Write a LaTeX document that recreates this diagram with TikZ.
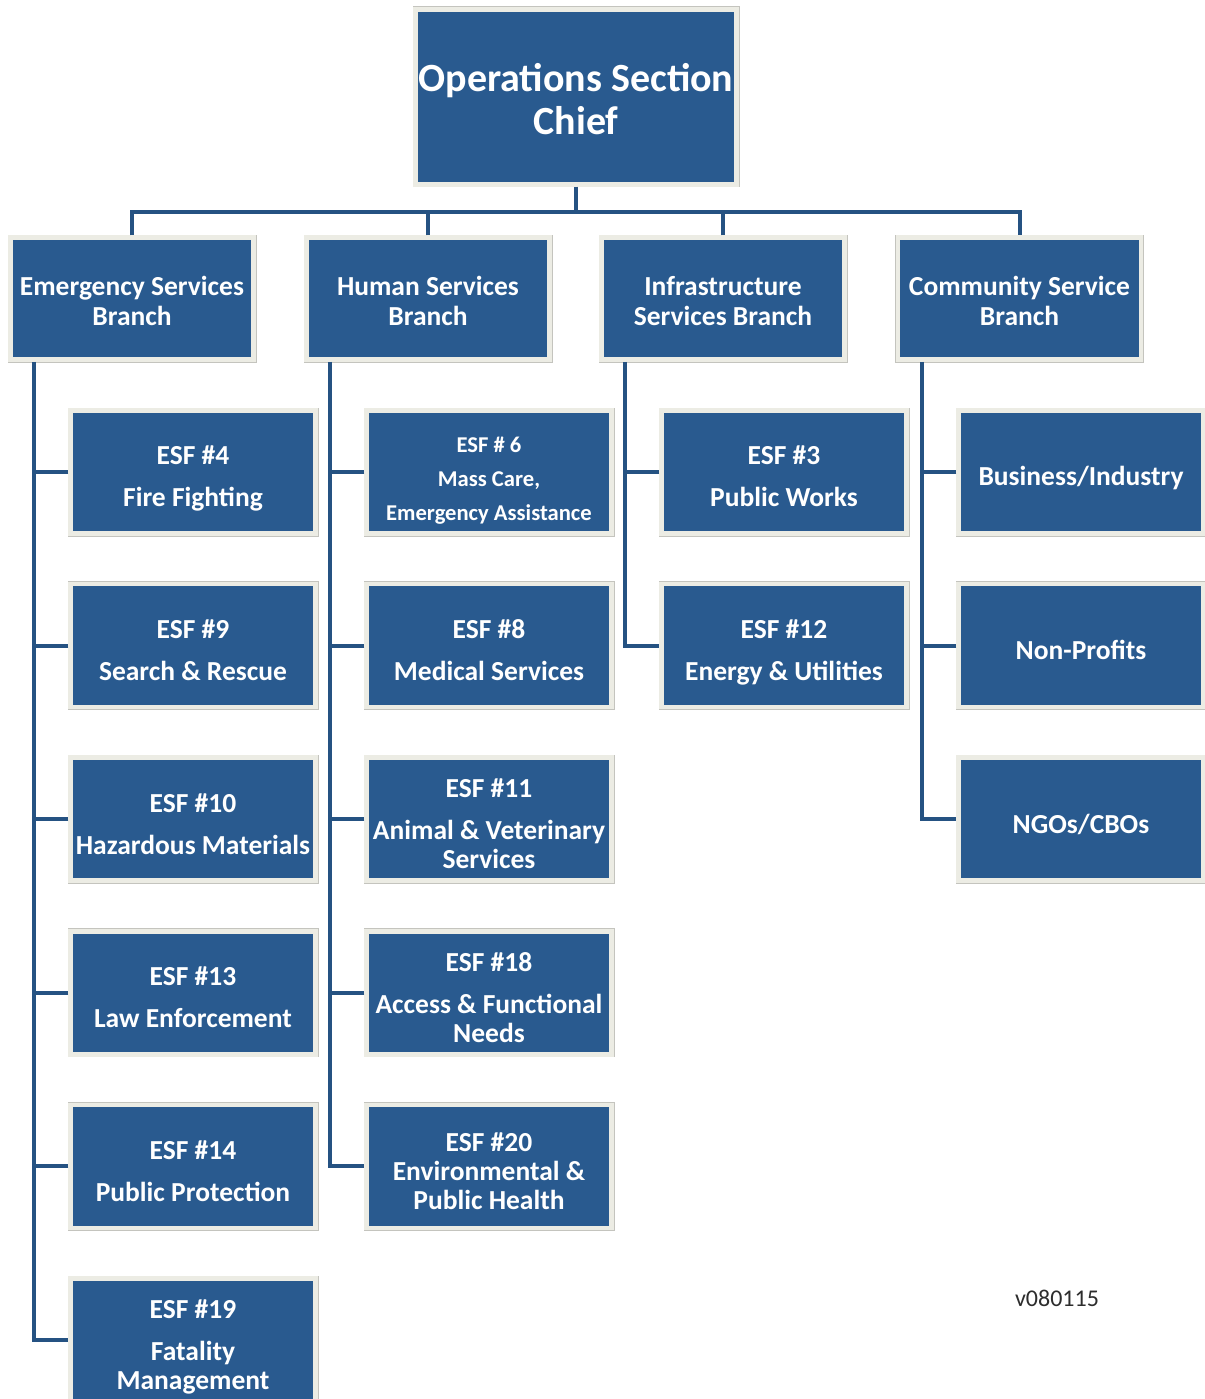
\documentclass[tikz,border=0pt]{standalone}
\usepackage{fontspec}
\setmainfont{Carlito}
\definecolor{boxblue}{RGB}{41,90,143}
\definecolor{linkblue}{RGB}{37,82,130}
\definecolor{frame}{RGB}{236,236,228}
\definecolor{frameedge}{RGB}{196,196,190}
\definecolor{vertext}{RGB}{45,45,45}
\newcommand{\boxlines}[2][8pt]{\raisebox{-#1}[\height][\depth]{\begin{tabular}{@{}c@{}}#2\end{tabular}}}
\tikzset{
  box/.style={rectangle, fill=boxblue, draw=frame, line width=4.5pt,
    preaction={draw=frameedge, line width=6pt},
    text=white, inner sep=0pt},
  chiefbox/.style={box, minimum width=321pt, minimum height=175pt,
    font=\bfseries\fontsize{40}{43}\selectfont},
  branchbox/.style={box, minimum width=243pt, minimum height=122pt,
    font=\bfseries\fontsize{27.5}{30}\selectfont},
  esfbox/.style={box, minimum width=245pt, minimum height=123pt,
    font=\bfseries\fontsize{27.5}{29}\selectfont},
  smallesf/.style={esfbox, font=\bfseries\fontsize{22.6}{34}\selectfont},
  conn/.style={draw=linkblue, line width=4pt},
}
\begin{document}
\begin{tikzpicture}[x=1pt,y=-1pt]
\useasboundingbox[fill=white] (0,0) rectangle (1204,1399);

\node[chiefbox] (chief) at (576,97) {\boxlines[7pt]{Operations Section\\Chief}};

\node[branchbox] (b1) at (132,298.5)  {\boxlines[5.5pt]{Emergency Services\\Branch}};
\node[branchbox] (b2) at (428,298.5)  {\boxlines[5.5pt]{Human Services\\Branch}};
\node[branchbox] (b3) at (723,298.5)  {\boxlines[5.5pt]{Infrastructure\\Services Branch}};
\node[branchbox] (b4) at (1019.5,298.5) {\boxlines[5.5pt]{Community Service\\Branch}};

% column 1
\node[esfbox] (c11) at (193,472)    {\boxlines{ESF \#4\\[13pt]Fire Fighting}};
\node[esfbox] (c12) at (193,645.6)  {\boxlines{ESF \#9\\[13pt]Search \& Rescue}};
\node[esfbox] (c13) at (193,819.2)  {\boxlines{ESF \#10\\[13pt]Hazardous Materials}};
\node[esfbox] (c14) at (193,992.8)  {\boxlines{ESF \#13\\[13pt]Law Enforcement}};
\node[esfbox] (c15) at (193,1166.4) {\boxlines{ESF \#14\\[13pt]Public Protection}};
\node[esfbox] (c16) at (193,1340)   {\boxlines{ESF \#19\\[13pt]Fatality\\Management}};

% column 2
\node[smallesf] (c21) at (489,472)  {\boxlines{ESF \# 6\\Mass Care,\\Emergency Assistance}};
\node[esfbox] (c22) at (489,645.6)  {\boxlines{ESF \#8\\[13pt]Medical Services}};
\node[esfbox] (c23) at (489,819.2)  {\boxlines{ESF \#11\\[13pt]Animal \& Veterinary\\Services}};
\node[esfbox] (c24) at (489,992.8)  {\boxlines{ESF \#18\\[13pt]Access \& Functional\\Needs}};
\node[esfbox] (c25) at (489,1166.4) {\boxlines{ESF \#20\\Environmental \&\\Public Health}};

% column 3
\node[esfbox] (c31) at (784,472)   {\boxlines{ESF \#3\\[13pt]Public Works}};
\node[esfbox] (c32) at (784,645.6) {\boxlines{ESF \#12\\[13pt]Energy \& Utilities}};

% column 4
\node[esfbox] (c41) at (1081,472)   {\boxlines{Business/Industry}};
\node[esfbox] (c42) at (1081,645.6) {\boxlines{Non-Profits}};
\node[esfbox] (c43) at (1081,819.2) {\boxlines{NGOs/CBOs}};

\node[font=\fontsize{24}{26}\selectfont, text=vertext] (ver) at (1057,1298) {v080115};

% top connectors
\coordinate (bar) at (576,212);
\draw[conn] (chief.south) -- (chief.south |- bar);
\draw[conn] (b1.north) |- (bar) -| (b4.north);
\draw[conn] (b2.north) -- (b2.north |- bar);
\draw[conn] (b3.north) -- (b3.north |- bar);

% branch spines
\coordinate (v1) at ([xshift=26pt]b1.south west);
\coordinate (v2) at ([xshift=26pt]b2.south west);
\coordinate (v3) at ([xshift=26pt]b3.south west);
\coordinate (v4) at ([xshift=26pt]b4.south west);

\draw[conn] (v1) |- (c16.west);
\foreach \c in {c11,c12,c13,c14,c15} \draw[conn] (\c.west) -- (\c.west -| v1);
\draw[conn] (v2) |- (c25.west);
\foreach \c in {c21,c22,c23,c24} \draw[conn] (\c.west) -- (\c.west -| v2);
\draw[conn] (v3) |- (c32.west);
\draw[conn] (c31.west) -- (c31.west -| v3);
\draw[conn] (v4) |- (c43.west);
\foreach \c in {c41,c42} \draw[conn] (\c.west) -- (\c.west -| v4);
\end{tikzpicture}
\end{document}
